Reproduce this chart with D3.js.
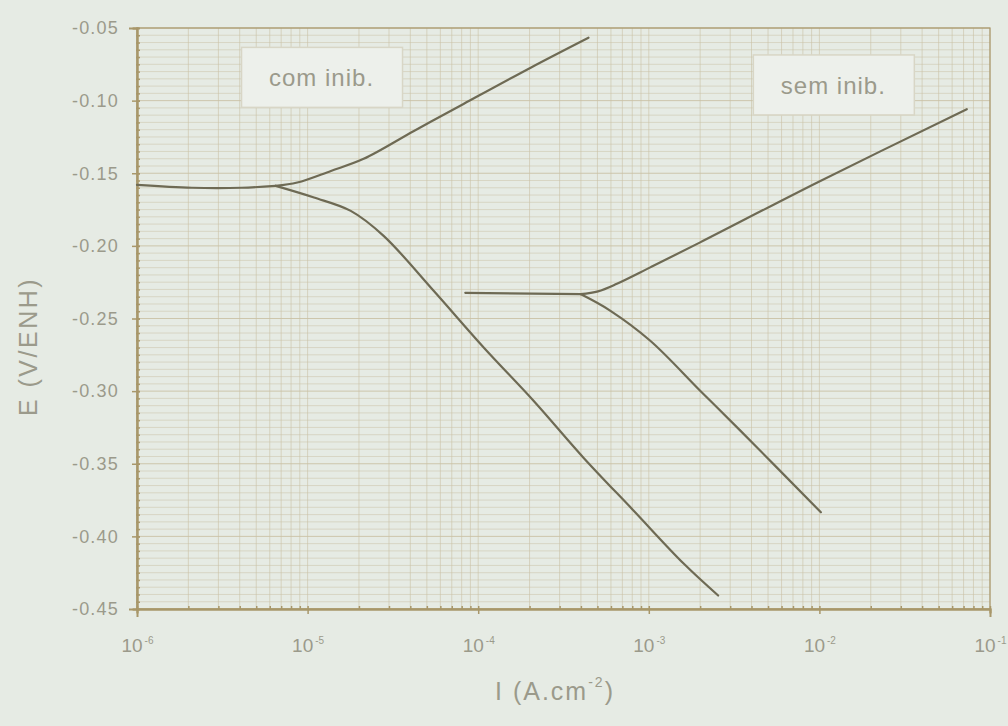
<!DOCTYPE html>
<html>
<head>
<meta charset="utf-8">
<script src="https://cdn.jsdelivr.net/npm/d3@7"></script>
<style>
  body { margin: 0; background: #e6ebe4; }
  svg { display: block; font-family: "Liberation Sans", Arial, sans-serif; }
</style>
</head>
<body>
<svg id="chart" width="1008" height="726"></svg>
<script>
// com inib. (with inhibitor)
const comFlatI = [1e-6, 2.1e-6, 4.1e-6, 6.5e-6];
const comFlatE = [-0.158, -0.160, -0.160, -0.1587];
const comAnodicI = [6.5e-6, 8.7e-6, 1.37e-5, 2.13e-5, 4.2e-5, 8.2e-5, 2.03e-4, 4.43e-4];
const comAnodicE = [-0.1587, -0.1564, -0.1484, -0.1401, -0.1209, -0.1023, -0.0773, -0.0567];
const comCathodicI = [6.5e-6, 1.09e-5, 1.79e-5, 2.79e-5, 5.48e-5, 1.08e-4, 2.11e-4, 4.14e-4, 8.13e-4, 1.6e-3, 2.55e-3];
const comCathodicE = [-0.1587, -0.1667, -0.1759, -0.1931, -0.2309, -0.2701, -0.3066, -0.3458, -0.3822, -0.4187, -0.4407];

// sem inib. (without inhibitor)
const semFlatI = [8.4e-5, 3.98e-4];
const semFlatE = [-0.2323, -0.2332];
const semAnodicI = [3.98e-4, 5.04e-4, 6.5e-4, 1.02e-3, 2.0e-3, 9.66e-3, 7.31e-2];
const semAnodicE = [-0.2332, -0.2313, -0.2261, -0.2148, -0.1976, -0.1565, -0.1059];
const semCathodicI = [3.98e-4, 5.96e-4, 1.02e-3, 2.0e-3, 3.44e-3, 1.02e-2];
const semCathodicE = [-0.2332, -0.2447, -0.2653, -0.2997, -0.3272, -0.3834];

const xMajor = [-6, -5, -4, -3, -2, -1];
const yMajor = [-0.45, -0.40, -0.35, -0.30, -0.25, -0.20, -0.15, -0.10, -0.05];

const legends = [
  {text: 'com inib.', I: 4.1e-6, E: -0.084},
  {text: 'sem inib.', I: 4.1e-3, E: -0.0892}
];

const margin = {top: 28, right: 18, bottom: 117, left: 137};
const width = 1008 - margin.left - margin.right;
const height = 726 - margin.top - margin.bottom;

const gridColor = '#cbc2a6';
const axisColor = '#a8976a';
const textColor = '#9b9a8b';
const lineColor = '#6e6a54';

const svg = d3.select('#chart');
const chart = svg.append('g')
  .attr('transform', `translate(${margin.left}, ${margin.top})`);

const x = d3.scaleLog()
  .domain([1e-6, 1e-1])
  .range([0, width]);

const y = d3.scaleLinear()
  .domain([-0.45, -0.05])
  .range([height, 0]);

// minor values
const xMinor = [];
xMajor.slice(0, -1).forEach(p => {
  for (let k = 2; k <= 9; k++) xMinor.push(k * Math.pow(10, p));
});
const yMinor = d3.range(0, 81).map(i => -0.45 + i * 0.005);

// grid
chart.append('g')
  .selectAll('line')
  .data(yMinor)
  .join('line')
  .attr('x1', 0).attr('x2', width)
  .attr('y1', d => y(d)).attr('y2', d => y(d))
  .attr('stroke', gridColor)
  .attr('stroke-width', 1)
  .attr('opacity', (d, i) => i % 10 === 0 ? 0.9 : 0.5);

chart.append('g')
  .selectAll('line')
  .data(xMinor.concat(xMajor.map(p => Math.pow(10, p))))
  .join('line')
  .attr('x1', d => x(d)).attr('x2', d => x(d))
  .attr('y1', 0).attr('y2', height)
  .attr('stroke', gridColor)
  .attr('stroke-width', 1)
  .attr('opacity', 0.6);

// frame
chart.append('rect')
  .attr('width', width).attr('height', height)
  .attr('fill', 'none')
  .attr('stroke', axisColor)
  .attr('stroke-width', 1.2);

// axes
const yAxis = d3.axisLeft(y)
  .tickValues(yMajor)
  .tickSize(8)
  .tickPadding(10)
  .tickFormat(d => d.toFixed(2));

const yMinorAxis = d3.axisLeft(y)
  .tickValues(yMinor)
  .tickSize(4)
  .tickFormat('');

const xAxis = d3.axisBottom(x)
  .tickValues(xMajor.map(p => Math.pow(10, p)))
  .tickSize(8)
  .tickPadding(22)
  .tickFormat('');

const xMinorAxis = d3.axisBottom(x)
  .tickValues(xMinor)
  .tickSize(4)
  .tickFormat('');

const axisY = chart.append('g').attr('class', 'y axis').call(yAxis);
chart.append('g').attr('class', 'y axis').call(yMinorAxis);
const axisX = chart.append('g').attr('class', 'x axis')
  .attr('transform', `translate(0, ${height})`).call(xAxis);
chart.append('g').attr('class', 'x axis')
  .attr('transform', `translate(0, ${height})`).call(xMinorAxis);

chart.selectAll('.axis path').attr('stroke', axisColor).attr('stroke-width', 2);
chart.selectAll('.axis line').attr('stroke', axisColor).attr('stroke-width', 1.5)
  .attr('transform', function() {
    // ticks cross the axis line a little
    return this.parentNode.parentNode.classList.contains('y') ? 'translate(3,0)' : 'translate(0,-3)';
  });

axisY.selectAll('text')
  .attr('fill', textColor)
  .attr('font-size', 18)
  .attr('letter-spacing', 1.2)
  .attr('font-family', '"Liberation Sans", Arial, sans-serif');

// x tick labels as 10^n
axisX.selectAll('.tick').each(function(d) {
  const t = d3.select(this).select('text')
    .attr('fill', textColor)
    .attr('font-size', 19)
    .attr('font-family', '"Liberation Sans", Arial, sans-serif')
    .attr('dy', '0.71em')
    .text(null);
  t.append('tspan').text('10');
  t.append('tspan')
    .attr('font-size', 10)
    .attr('dy', '-0.8em')
    .attr('dx', 2)
    .text(Math.round(Math.log10(d)));
});

// curves
const line = d3.line()
  .x(d => x(d[0]))
  .y(d => y(d[1]))
  .curve(d3.curveCatmullRom.alpha(0.5));

const series = [
  [comFlatI, comFlatE],
  [comAnodicI, comAnodicE],
  [comCathodicI, comCathodicE],
  [semFlatI, semFlatE],
  [semAnodicI, semAnodicE],
  [semCathodicI, semCathodicE]
];

chart.append('g')
  .selectAll('path')
  .data(series.map(s => d3.zip(s[0], s[1])))
  .join('path')
  .attr('class', 'smoothline')
  .attr('d', line)
  .attr('fill', 'none')
  .attr('stroke', lineColor)
  .attr('stroke-width', 2.2)
  .attr('stroke-linejoin', 'round')
  .attr('stroke-linecap', 'round');

// legend boxes
const leg = chart.append('g')
  .selectAll('g')
  .data(legends)
  .join('g')
  .attr('transform', d => `translate(${x(d.I)}, ${y(d.E)})`);

leg.append('rect')
  .attr('x', 0).attr('y', -30)
  .attr('width', 161).attr('height', 60)
  .attr('fill', '#edf0eb')
  .attr('stroke', '#d8d6c6')
  .attr('stroke-width', 1.5);

leg.append('text')
  .attr('x', 80).attr('y', 9)
  .attr('text-anchor', 'middle')
  .attr('fill', textColor)
  .attr('font-size', 24)
  .attr('letter-spacing', 1)
  .text(d => d.text);

// axis titles
svg.append('text')
  .attr('transform', `translate(37, ${margin.top + height / 2 + 28}) rotate(-90)`)
  .attr('text-anchor', 'middle')
  .attr('fill', textColor)
  .attr('font-size', 25)
  .attr('letter-spacing', 2.5)
  .text('E (V/ENH)');

const xt = svg.append('text')
  .attr('x', 555)
  .attr('y', 700)
  .attr('text-anchor', 'middle')
  .attr('fill', textColor)
  .attr('font-size', 25)
  .attr('letter-spacing', 2);
xt.append('tspan').text('I (A.cm');
xt.append('tspan').attr('font-size', 14).attr('dy', -13).text('-2');
xt.append('tspan').attr('dy', 13).text(')');
</script>
</body>
</html>
